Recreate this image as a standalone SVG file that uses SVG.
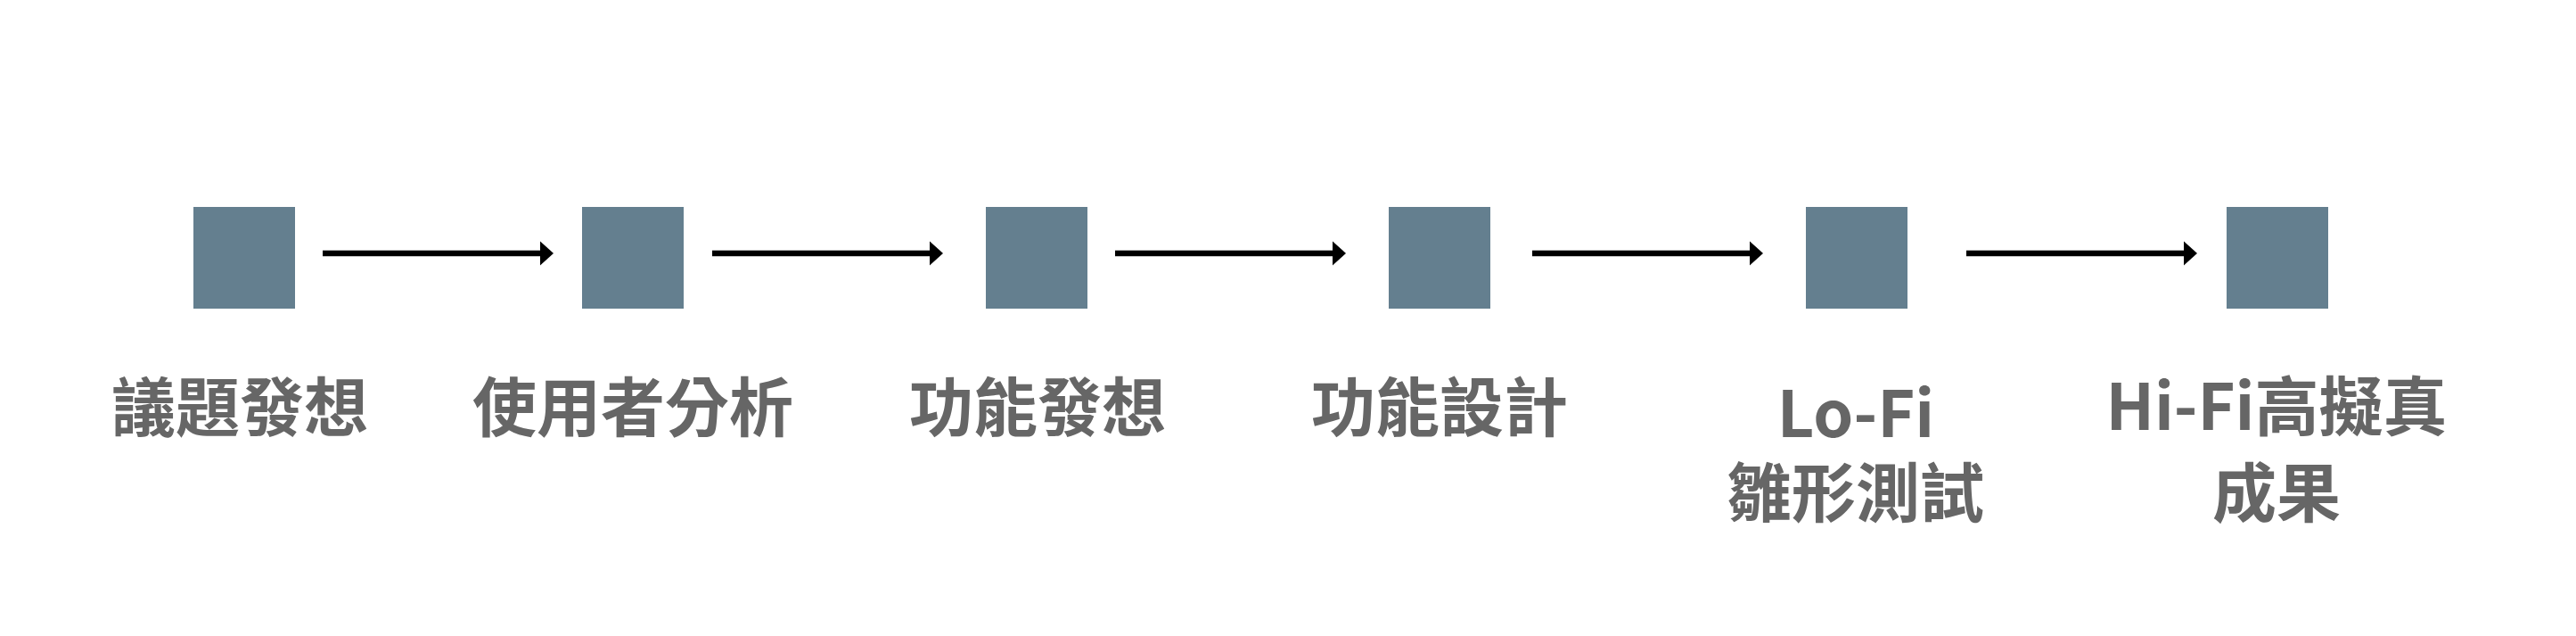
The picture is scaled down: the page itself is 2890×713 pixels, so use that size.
<svg xmlns="http://www.w3.org/2000/svg" width="2890" height="713" viewBox="0 0 2890 713">
<style>
.node rect{fill:#647f8f}
.lbl{font-family:"Noto Sans CJK TC","Noto Sans CJK SC",sans-serif;font-weight:700;font-size:72px;fill:#666666;text-anchor:middle}
.conn line{stroke:#000;stroke-width:6.5;marker-end:url(#ah)}
</style>
<defs>
<marker id="ah" markerUnits="userSpaceOnUse" markerWidth="16" markerHeight="28" refX="3" refY="13.5" orient="auto" overflow="visible">
<path d="M0,0 L15,13.5 L0,27 z" fill="#000"/>
</marker>
</defs>
<rect width="2890" height="713" fill="#fff"/>
<g id="connectors" class="conn">
<line x1="362" y1="284" x2="609" y2="284"/>
<line x1="799" y1="284" x2="1046" y2="284"/>
<line x1="1251" y1="284" x2="1498" y2="284"/>
<line x1="1719" y1="284" x2="1966" y2="284"/>
<line x1="2206" y1="284" x2="2453" y2="284"/>
</g>
<g id="n1" class="node"><rect x="217" y="232" width="114" height="114"/><text class="lbl" x="269" y="483">議題發想</text></g>
<g id="n2" class="node"><rect x="653" y="232" width="114" height="114"/><text class="lbl" x="710" y="483">使用者分析</text></g>
<g id="n3" class="node"><rect x="1106" y="232" width="114" height="114"/><text class="lbl" x="1164" y="483">功能發想</text></g>
<g id="n4" class="node"><rect x="1558" y="232" width="114" height="114"/><text class="lbl" x="1615" y="483">功能設計</text></g>
<g id="n5" class="node"><rect x="2026" y="232" width="114" height="114"/><text class="lbl" x="2082" y="490">Lo-Fi</text><text class="lbl" x="2082" y="579">雛形測試</text></g>
<g id="n6" class="node"><rect x="2498" y="232" width="114" height="114"/><text class="lbl" x="2554" y="482">Hi-Fi高擬真</text><text class="lbl" x="2554" y="579">成果</text></g>
</svg>
